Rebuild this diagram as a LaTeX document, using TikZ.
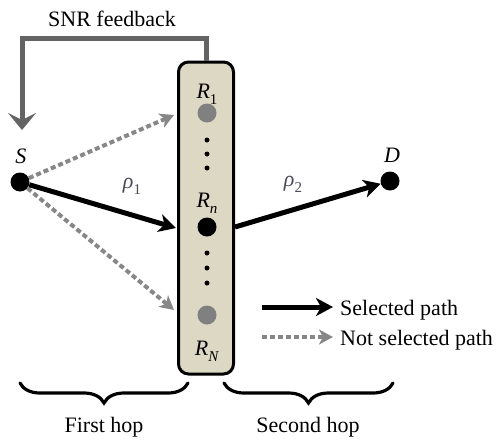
\documentclass[tikz,border=0pt]{standalone}
\usepackage{fontspec}
\setmainfont{Liberation Serif}
\usetikzlibrary{arrows.meta,decorations.pathreplacing}
\definecolor{boxfill}{RGB}{221,216,196}
\definecolor{dotgray}{RGB}{128,128,128}
\definecolor{dashgray}{RGB}{135,135,135}
\definecolor{fbgray}{RGB}{100,100,100}
\definecolor{rhocol}{RGB}{75,75,90}
\newcommand{\mysub}[1]{\raisebox{-0.28em}{\fontsize{15}{15}\selectfont #1}}
\begin{document}
\begin{tikzpicture}[x=1pt,y=-1pt,
 lbl/.style={inner sep=0pt, font=\fontsize{22}{24}\selectfont},
 bigdot/.style={circle, fill=black, minimum size=19pt, inner sep=0pt},
 graydot/.style={circle, fill=dotgray, minimum size=19pt, inner sep=0pt},
 smalldot/.style={circle, fill=black, minimum size=5pt, inner sep=0pt},
 selpath/.style={line width=5pt, draw=black, -{Stealth[length=17pt,width=18pt,inset=5pt]}},
 notsel/.style={line width=4pt, draw=dashgray, dash pattern=on 5pt off 3pt, -{Stealth[length=14pt,width=15pt,inset=4pt]}},
 feedback/.style={line width=5pt, draw=fbgray, line join=miter, -{Stealth[length=17pt,width=28pt,inset=7pt]}},
 hopbrace/.style={line width=3.2pt, line cap=round, decorate, decoration={brace, mirror, amplitude=20pt}},
 relaybox/.style={draw=black, line width=3pt, fill=boxfill, rounded corners=10pt, minimum width=55pt, minimum height=312pt, inner sep=0pt},
]
\useasboundingbox (0,0) rectangle (500,439);

% relay box
\node[relaybox] (box) at (206,218) {};

% relays
\node[graydot] (R1) at (207,113) {};
\node[bigdot] (Rn) at (207,227) {};
\node[graydot] (RN) at (207,315) {};
\node[smalldot] (d1) at (207,140) {};
\node[smalldot] (d2) at (207,154) {};
\node[smalldot] (d3) at (207,168) {};
\node[smalldot] (d4) at (207,253) {};
\node[smalldot] (d5) at (207,268) {};
\node[smalldot] (d6) at (207,283) {};
\node[lbl, anchor=base] (R1l) at (207,98) {\textit{R}\mysub{1}};
\node[lbl, anchor=base] (Rnl) at (207,207) {\textit{R}\mysub{\textit{n}}};
\node[lbl, anchor=base] (RNl) at (207,355) {\textit{R}\mysub{\textit{N}}};

% source and destination
\node[bigdot] (S) at (20,182) {};
\node[bigdot] (D) at (390,181) {};
\node[lbl, anchor=base] (Sl) at (21,163) {\textit{S}};
\node[lbl, anchor=base] (Dl) at (392,162) {\textit{D}};

% feedback
\coordinate (fbtop) at (22,38);
\coordinate (fbend) at (22,130);
\draw[feedback] (box.north) -- (box.north |- fbtop) -| (fbend);
\node[lbl] (fbl) at (112,19) {SNR feedback};

% first hop paths
\coordinate (t1) at (174,115);
\coordinate (tn) at (176,228);
\coordinate (tN) at (174,310);
\draw[notsel] (S) -- (t1);
\draw[notsel] (S) -- (tN);
\draw[selpath] (S) -- (tn);

% second hop
\draw[selpath] (box.east |- Rn) -- (D);

\node[lbl, text=rhocol, anchor=base] (rho1) at (132,188) {\textit{ρ}\mysub{1}};
\node[lbl, text=rhocol, anchor=base] (rho2) at (293,186) {\textit{ρ}\mysub{2}};

% legend
\coordinate (l1a) at (262,307);
\coordinate (l1b) at (333,307);
\coordinate (l2a) at (262,337);
\coordinate (l2b) at (333,337);
\draw[selpath] (l1a) -- (l1b);
\draw[notsel] (l2a) -- (l2b);
\node[lbl, anchor=base west] (leg1) at (340,315) {Selected path};
\node[lbl, anchor=base west] (leg2) at (340,345) {Not selected path};

% braces
\coordinate (b1a) at (20,383);
\coordinate (b1b) at (188,383);
\coordinate (b2a) at (224,383);
\coordinate (b2b) at (393,383);
\draw[hopbrace] (b1a) -- (b1b);
\draw[hopbrace] (b2a) -- (b2b);
\node[lbl, anchor=base] (h1) at (104,432) {First hop};
\node[lbl, anchor=base] (h2) at (308,432) {Second hop};
\end{tikzpicture}
\end{document}
